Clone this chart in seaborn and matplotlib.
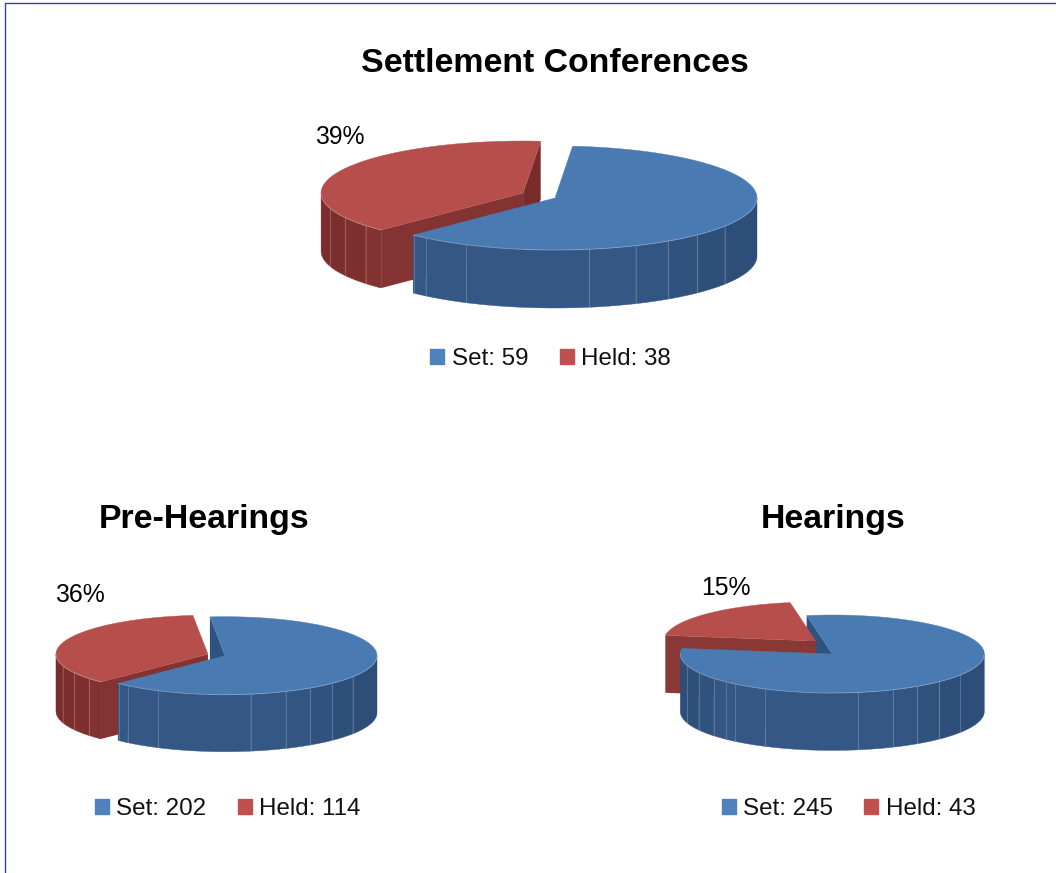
import numpy as np
import matplotlib
matplotlib.use("Agg")
import matplotlib.pyplot as plt
from matplotlib.colors import to_rgb
from matplotlib.lines import Line2D
from matplotlib.patches import Patch
import seaborn as sns

# ---- data ----
titles = ["Settlement Conferences", "Pre-Hearings", "Hearings"]
set_counts = [59, 202, 245]
held_counts = [38, 114, 43]
# slice sweep shares as drawn (percent); colour index 0 = blue, 1 = red
drawn_shares = [[61, 39], [64, 36], [65, 15, 20]]
drawn_colors = [[0, 1], [0, 1], [0, 0, 1]]

# ---- style and layout ----
W, H = 1056, 873
sns.set_theme(style="white")
plt.rcParams["font.family"] = ["Liberation Sans", "DejaVu Sans"]
swatch = sns.color_palette(["#4F81BD", "#C0504D"])
top_col = ["#4A7AB2", "#B64F4B"]
wall_front = ["#345786", "#823332"]
wall_side = ["#2D4E78", "#7A2D2C"]
radial_col = ["#2F5380", "#772C2B"]
radial_flat = ["#345786", "#8A3835"]
FACETS = np.degrees(np.arcsin([-.955, -.88, -.78, -.70, -.64, -.44, .17, .40, .56, .705, .84]))

layout = [
    dict(cx=555, cy=198, rx=202, ry=52, depth=58, start=5, off=(-.158, .096),
         lab=(-1.064, 1.18), title=(555, 60), leg=(550.5, 359)),
    dict(cx=225, cy=655.7, rx=152, ry=39, depth=57, start=-5.7, off=(-.112, .038),
         lab=(-.954, 1.56), title=(204, 516), leg=(227.5, 809)),
    dict(cx=832.3, cy=654, rx=152, ry=39, depth=57.4, start=-9.7, off=(-.109, .333),
         lab=(-.70, 1.69), title=(833, 516), leg=(848.5, 809)),
]

fig = plt.figure(figsize=(W / 100, H / 100), dpi=100, facecolor="white")


def mix(a, b, t):
    a, b = np.array(to_rgb(a)), np.array(to_rgb(b))
    return tuple(a + (b - a) * t)


def radial_walls(ax, a0, a1, ci, off, d):
    ox, oy = off
    for ang, nx, ny in [(a0, -np.cos(np.radians(a0)), np.sin(np.radians(a0))),
                        (a1, np.cos(np.radians(a1)), -np.sin(np.radians(a1)))]:
        if ny < 0:  # faces the viewer
            r = np.radians(ang)
            xs = np.array([0, np.sin(r), np.sin(r), 0]) + ox
            ys = np.array([0, np.cos(r), np.cos(r) - d, -d]) + oy
            if abs(ny) < .3:
                col = radial_col[ci]
            elif abs(ny) > .9:
                col = radial_flat[ci]
            else:
                col = wall_front[ci]
            ax.fill(xs, ys, color=col, lw=0, zorder=ax.z)
            ax.z += 1


def outer_wall(ax, a0, a1, ci, off, d):
    ox, oy = off
    lo, hi = max(a0, 90), min(a1, 270)
    if lo >= hi:
        return
    cuts = sorted(180 - f for f in FACETS if lo < 180 - f < hi)
    edges = [lo] + cuts + [hi]
    for e0, e1 in zip(edges[:-1], edges[1:]):
        aa = np.radians(np.linspace(e0, e1, 60))
        s = np.sin((aa[0] + aa[-1]) / 2)
        t = np.clip((s - .35) / .5, 0, 1) if s > 0 else np.clip((-s - .7) / .25, 0, 1)
        c = mix(wall_front[ci], wall_side[ci], t)
        x = np.sin(aa) + ox
        y = np.cos(aa) + oy
        ax.fill(np.r_[x, x[::-1]], np.r_[y, y[::-1] - d], color=c, lw=.3, ec=c, zorder=ax.z)
    ax.z += 1
    for a in cuts:
        r = np.radians(a)
        ax.plot([np.sin(r) + ox] * 2, [np.cos(r) + oy, np.cos(r) + oy - d],
                color="white", alpha=.18, lw=.8, zorder=ax.z)
    ax.z += 1


def top_face(ax, a0, a1, ci, off):
    ox, oy = off
    aa = np.radians(np.linspace(a0, a1, 240))
    ax.fill(np.r_[ox, np.sin(aa) + ox], np.r_[oy, np.cos(aa) + oy], color=top_col[ci],
            lw=.3, ec=top_col[ci], zorder=ax.z)
    ax.z += 1
    lo, hi = max(a0, 90), min(a1, 270)
    if lo < hi:
        rim = np.radians(np.linspace(lo, hi, 160))
        ax.plot(np.sin(rim) + ox, np.cos(rim) + oy, color="white", alpha=.3, lw=.6, zorder=ax.z)
        ax.z += 1


for i, L in enumerate(layout):
    rx, ry, d = L["rx"], L["ry"], L["depth"] / L["ry"]
    xm, ytop, ybot = 1.35, 2.1, 1 + d + .2
    ax = fig.add_axes([(L["cx"] - xm * rx) / W, 1 - (L["cy"] + ybot * ry) / H,
                       2 * xm * rx / W, (ytop + ybot) * ry / H])
    ax.set_xlim(-xm, xm)
    ax.set_ylim(-ybot, ytop)
    ax.axis("off")
    ax.patch.set_alpha(0)
    ax.z = 1

    edges = L["start"] + np.cumsum([0] + drawn_shares[i]) * 3.6
    slices = list(zip(edges[:-1], edges[1:], drawn_colors[i]))
    offs = [L["off"] if c == 1 else (0, 0) for c in drawn_colors[i]]

    for (a0, a1, c), o in zip(slices, offs):
        if c == 0:
            radial_walls(ax, a0, a1, c, o, d)
    for (a0, a1, c), o in zip(slices, offs):
        if c == 1:
            radial_walls(ax, a0, a1, c, o, d)
            outer_wall(ax, a0, a1, c, o, d)
            top_face(ax, a0, a1, c, o)
    for (a0, a1, c), o in zip(slices, offs):
        if c == 0:
            outer_wall(ax, a0, a1, c, o, d)
    for (a0, a1, c), o in zip(slices, offs):
        if c == 0:
            top_face(ax, a0, a1, c, o)
    # seam between same-coloured slices
    for (a0, a1, c), (b0, b1, c2) in zip(slices[:-1], slices[1:]):
        if c == c2:
            r = np.radians(a1)
            ax.plot([0, np.sin(r)], [0, np.cos(r)], color="#5F6F98", lw=.6, zorder=ax.z)

    pct = round(100 * held_counts[i] / (set_counts[i] + held_counts[i]))
    ax.text(L["lab"][0], L["lab"][1], f"{pct}%", ha="center", va="center",
            fontsize=17.8, color="black", zorder=ax.z + 1)

    fig.text(L["title"][0] / W, 1 - L["title"][1] / H, titles[i], ha="center", va="center_baseline",
             fontsize=24.4, fontweight="bold", color="black")
    handles = [Patch(color=swatch[0], label=f"Set: {set_counts[i]}"),
               Patch(color=swatch[1], label=f"Held: {held_counts[i]}")]
    fig.legend(handles=handles, loc="center", ncol=2, frameon=False,
               bbox_to_anchor=(L["leg"][0] / W, 1 - L["leg"][1] / H),
               fontsize=17.4, handlelength=.58, handleheight=.58, handletextpad=.3,
               columnspacing=1.3, borderpad=0, borderaxespad=0, labelcolor="#111111")

frame = "#3A3F97"
fig.add_artist(Line2D([4.7 / W, 4.7 / W], [0, 1 - 2.7 / H], color=frame, lw=1.0))
fig.add_artist(Line2D([4.7 / W, 1], [1 - 2.7 / H, 1 - 2.7 / H], color=frame, lw=1.0))

fig.savefig("out.png", dpi=100, facecolor="white")
